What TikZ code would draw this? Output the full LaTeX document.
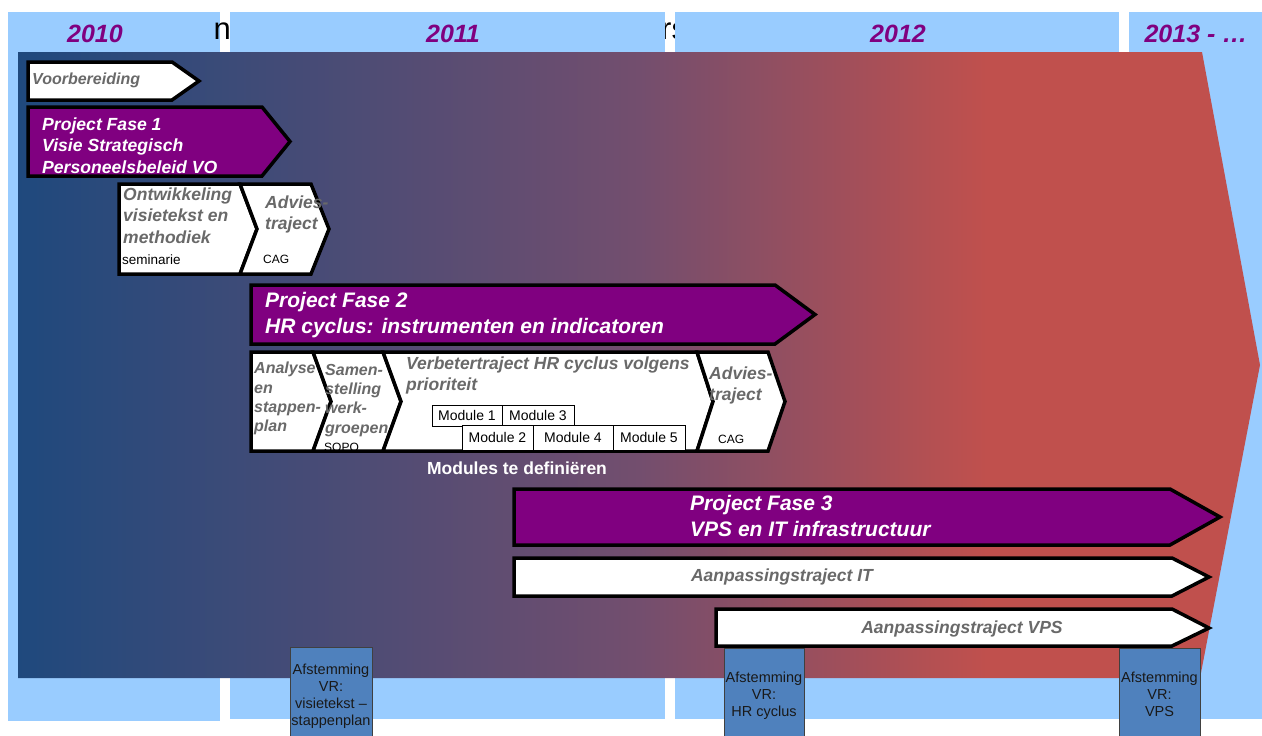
\documentclass[tikz,border=0pt]{standalone}
\usepackage{fontspec}
\setmainfont{Liberation Sans}

\definecolor{panelblue}{RGB}{153,204,255}
\definecolor{bgblue}{RGB}{31,73,125}
\definecolor{bgmid}{RGB}{115,78,110}
\definecolor{bgred}{RGB}{192,80,77}
\definecolor{fasepurple}{RGB}{128,0,128}
\definecolor{taskgray}{RGB}{105,105,105}
\definecolor{vrblue}{RGB}{79,129,189}

\pgfdeclarehorizontalshading{bgshade}{100bp}{color(0bp)=(bgblue); color(25bp)=(bgblue); color(50bp)=(bgmid); color(64bp)=(bgred); color(100bp)=(bgred)}

\tikzset{
  fasearrow/.style={draw=black, line width=3.5pt, fill=fasepurple, line join=miter},
  taskarrow/.style={draw=black, line width=3.5pt, fill=white, line join=miter},
  yeartext/.style={inner sep=0pt, text=fasepurple, font=\fontsize{25}{30}\selectfont\bfseries\itshape},
  titlefrag/.style={inner sep=0pt, font=\fontsize{31}{36}\selectfont},
  fasetext/.style={anchor=north west, inner sep=0pt, align=left, text=white, font=\fontsize{21}{26}\selectfont\bfseries\itshape},
  tasktext/.style={anchor=north west, inner sep=0pt, align=left, text=taskgray, font=\fontsize{17.5}{21.5}\selectfont\bfseries\itshape},
  smalltext/.style={anchor=base west, inner sep=0pt, font=\fontsize{12}{14}\selectfont},
  modulebox/.style={draw=black, line width=0.8pt, fill=white, inner sep=0pt, font=\fontsize{14}{16}\selectfont},
  vrbox/.style={draw=black!75, line width=1pt, fill=vrblue},
  vrtext/.style={anchor=north, inner sep=0pt, align=center, text=black!90, font=\fontsize{14.5}{17}\selectfont}
}

\begin{document}
\begin{tikzpicture}[x=1pt,y=-1pt]
    % Canvas
    \useasboundingbox (0,0) rectangle (1262,736);
    \clip (0,0) rectangle (1262,736);

    % Year columns (with the hidden title peeking through)
    \fill[panelblue] (8,12) rectangle (220,721);
    \node[titlefrag, anchor=base west] (fragn) at (213.5,39.5) {n};
    \node[titlefrag, anchor=base west] (fragrs) at (661,39.5) {rs};
    \fill[panelblue] (230,12) rectangle (665,719);
    \fill[panelblue] (675,12) rectangle (1119,719);
    \fill[panelblue] (1129,12) rectangle (1262,719);

    % Years
    \node[yeartext] (y2010) at (95,34) {2010};
    \node[yeartext] (y2011) at (453,34) {2011};
    \node[yeartext] (y2012) at (898,34) {2012};
    \node[yeartext] (y2013) at (1196,34) {2013 - …};

    % Big time arrow
    \shade[shading=bgshade] (18,52) -- (1202,52) -- (1260,365) -- (1200,678) -- (18,678) -- cycle;

    % Fase 1
    \draw[taskarrow] (28,62) -- (172,62) -- (199,81) -- (172,100) -- (28,100) -- cycle;
    \draw[fasearrow] (28,107) -- (262,107) -- (290,141.5) -- (262,176) -- (28,176) -- cycle;
    \draw[taskarrow] (119,184) -- (240,184) -- (257,229) -- (240,274) -- (119,274) -- cycle;
    \draw[taskarrow] (240,184) -- (311,184) -- (329,229) -- (311,274) -- (240,274) -- (257,229) -- cycle;

    % Fase 2
    \draw[fasearrow] (251,285) -- (775,285) -- (815,314.5) -- (775,344) -- (251,344) -- cycle;
    \draw[taskarrow] (251,352) -- (313,352) -- (331,401.5) -- (313,451) -- (251,451) -- cycle;
    \draw[taskarrow] (313,352) -- (383,352) -- (401,401.5) -- (383,451) -- (313,451) -- (331,401.5) -- cycle;
    \draw[taskarrow] (383,352) -- (697,352) -- (713,401.5) -- (697,451) -- (383,451) -- (401,401.5) -- cycle;
    \draw[taskarrow] (697,352) -- (768,352) -- (785,401.5) -- (768,451) -- (697,451) -- (713,401.5) -- cycle;

    % Fase 3
    \draw[fasearrow] (514,489) -- (1170,489) -- (1220,517) -- (1170,545) -- (514,545) -- cycle;
    \draw[taskarrow] (514,558) -- (1172,558) -- (1209,577) -- (1172,596) -- (514,596) -- cycle;
    \draw[taskarrow] (716,609) -- (1172,609) -- (1209,628) -- (1172,646) -- (716,646) -- cycle;

    % Labels fase 1
    \node[tasktext, font=\fontsize{16}{19}\selectfont\bfseries\itshape] (voorb) at (32,73) {Voorbereiding};
    \node[fasetext, font=\fontsize{17.6}{21.5}\selectfont\bfseries\itshape] (fase1) at (42,117.5) {Project Fase 1\\Visie Strategisch\\Personeelsbeleid VO};
    \node[tasktext] (ontw) at (123,187.5) {Ontwikkeling\\visietekst en\\methodiek};
    \node[smalltext, font=\fontsize{13.5}{16}\selectfont] (semin) at (122,264) {seminarie};
    \node[tasktext] (advies1) at (265,195.5) {Advies-\\traject};
    \node[smalltext] (cag1) at (263,263) {CAG};

    % Labels fase 2
    \node[fasetext] (fase2) at (265,292) {Project Fase 2\\HR cyclus: instrumenten en indicatoren};
    \node[tasktext, font=\fontsize{16}{19.3}\selectfont\bfseries\itshape] (analyse) at (254,362) {Analyse\\en\\stappen-\\plan};
    \node[tasktext, font=\fontsize{16}{19.3}\selectfont\bfseries\itshape] (samen) at (325,364) {Samen-\\stelling\\werk-\\groepen};
    \node[smalltext] (sopo) at (324,451) {SOPO};
    \node[tasktext, font=\fontsize{17.5}{21}\selectfont\bfseries\itshape] (verbeter) at (406,356.5) {Verbetertraject HR cyclus volgens\\prioriteit};
    \node[tasktext] (advies2) at (709,366.5) {Advies-\\traject};
    \node[smalltext] (cag2) at (718,443) {CAG};

    % Modules
    \node[modulebox, minimum width=70pt, minimum height=21pt] (mod1) at (467,415.5) {Module 1};
    \node[modulebox, minimum width=72pt, minimum height=21pt] (mod3) at (538,415.5) {Module 3};
    \node[modulebox, minimum width=71pt, minimum height=25pt] (mod2) at (497.5,437.5) {Module 2};
    \node[modulebox, minimum width=80pt, minimum height=25pt] (mod4) at (573,437.5) {Module 4};
    \node[modulebox, minimum width=72pt, minimum height=25pt] (mod5) at (649,437.5) {Module 5};
    \node[inner sep=0pt, text=white, font=\fontsize{17.5}{20}\selectfont\bfseries] (moddef) at (517,468) {Modules te definiëren};

    % Labels fase 3
    \node[fasetext] (fase3) at (690,495) {Project Fase 3\\VPS en IT infrastructuur};
    \node[tasktext, anchor=center] (aanpit) at (782,576.5) {Aanpassingstraject IT};
    \node[tasktext, anchor=center] (aanpvps) at (962,629) {Aanpassingstraject VPS};

    % Afstemming VR
    \draw[vrbox] (290,647) rectangle (372,745);
    \node[vrtext] (vr1) at (331,663.6) {Afstemming\\VR:\\visietekst –\\stappenplan};
    \draw[vrbox] (724,648) rectangle (804,745);
    \node[vrtext] (vr2) at (764,671.6) {Afstemming\\VR:\\HR cyclus};
    \draw[vrbox] (1119,648) rectangle (1200,745);
    \node[vrtext] (vr3) at (1159.5,671.6) {Afstemming\\VR:\\VPS};
\end{tikzpicture}
\end{document}
